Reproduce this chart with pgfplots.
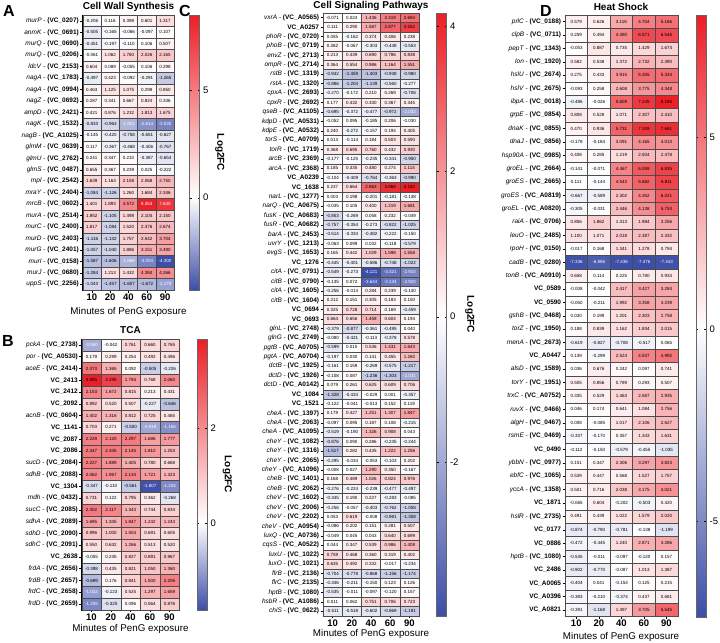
\documentclass[border=0pt]{standalone}
\usepackage{fontspec}
\setmainfont{Liberation Sans}
\usepackage{pgfplots}
\usepackage{pgfplotstable}
\pgfplotsset{compat=1.18}

% ---------- fonts ----------
\newcommand\lblfont{\fontsize{6.5bp}{7bp}\selectfont}
\newcommand\cellfont{\fontsize{4.5bp}{5bp}\selectfont}
\newcommand\tickfont{\fontsize{9.5bp}{10bp}\selectfont\bfseries}
\newcommand\cbfont{\fontsize{9.5bp}{10bp}\selectfont}
\newcommand\titfont{\fontsize{10bp}{11bp}\selectfont\bfseries}
\newcommand\letfont{\fontsize{16bp}{17bp}\selectfont\bfseries}
\newcommand\xlfont{\fontsize{9.8bp}{11bp}\selectfont}

% gene label: italic gene name, bold locus tag
\newcommand\gl[2]{\textit{#1} - \textbf{(VC\_#2)}}
\newcommand\vc[1]{\textbf{VC\_#1}}

% one heat-map cell, sized per panel
\newdimen\cellw \newdimen\cellh
\pgfdeclareplotmark{hmcell}{%
  \pgfpathrectangle{\pgfpoint{-0.5\cellw}{-0.5\cellh}}{\pgfpoint{\cellw}{\cellh}}%
  \pgfusepathqfillstroke}

% value text inside a cell, white on the darkest cells
% (thresholds are on the 0..1000 colour scale of each panel)
\newcommand\celltext{%
  \pgfmathtruncatemacro\wt{(\pgfplotspointmetatransformed<\negthr)||(\pgfplotspointmetatransformed>\posthr)}%
  \ifnum\wt=1 \color{white}\fi
  \pgfmathprintnumber[fixed,fixed zerofill,precision=3]{\pgfplotspointmeta}}

% blue - white - red maps with white at 0 for each panel's range
\pgfplotsset{
  colormap={bwrA}{rgb255(0pt)=(61,78,168) rgb255(4.3pt)=(255,255,255) rgb255(12.8pt)=(236,30,38)},
  colormap={bwrB}{rgb255(0pt)=(61,78,168) rgb255(1.85pt)=(255,255,255) rgb255(5.75pt)=(236,30,38)},
  colormap={bwrC}{rgb255(0pt)=(61,78,168) rgb255(4.12pt)=(255,255,255) rgb255(8.3pt)=(236,30,38)},
  colormap={bwrD}{rgb255(0pt)=(61,78,168) rgb255(7.48pt)=(255,255,255) rgb255(15.67pt)=(236,30,38)},
}

\pgfplotsset{
  /pgf/number format/assume math mode=true,
  hmplot/.style={scatter, only marks, mark=hmcell, line width=0.35bp,
    point meta=explicit,
    scatter/use mapped color={draw=black!70, fill=mapped color}},
  hmtext/.style={only marks, mark=*, mark size=0pt,
    mark options={draw=none, fill=none},
    point meta=explicit,
    nodes near coords={\celltext},
    every node near coord/.append style={font=\cellfont, inner sep=0pt,
      anchor=center, text=black}},
  hmaxis/.style={anchor=north west, y dir=reverse, axis on top,
    xmin=-0.5, xmax=4.5, ymin=-0.5,
    xtick={0,1,2,3,4}, xticklabels={10,20,40,60,90},
    xticklabel style={font=\tickfont, inner sep=1bp},
    yticklabel style={font=\lblfont, inner sep=1.2bp},
    tick align=outside, major tick length=2.5bp,
    xtick pos=bottom, ytick pos=left,
    axis line style={line width=0.8bp},
    tick style={line width=0.5bp, black}},
  % stand-alone colour scale: height, ticks, extra options
  hmbar/.style n args={3}{anchor=north west, hide axis, scale only axis,
    width=1bp, height=#1, xmin=0, xmax=1, ymin=0, ymax=1,
    colorbar, colorbar style={width=10bp, height=#1, scale only axis,
      at={(parent axis.north east)}, anchor=north west, xshift=0pt,
      ytick={#2}, yticklabel style={font=\cbfont},
      ylabel={Log2FC}, ylabel style={font=\titfont, rotate=180},
      axis line style={line width=0.3bp, black!60},
      major tick length=2bp, tick style={black},
      /pgf/number format/assume math mode=true, #3}},
}

\newcommand\heatcols[1]{%
  \addplot[hmplot] table[x expr=0, y expr=\coordindex, meta=a]{#1};
  \addplot[hmplot] table[x expr=1, y expr=\coordindex, meta=b]{#1};
  \addplot[hmplot] table[x expr=2, y expr=\coordindex, meta=c]{#1};
  \addplot[hmplot] table[x expr=3, y expr=\coordindex, meta=d]{#1};
  \addplot[hmplot] table[x expr=4, y expr=\coordindex, meta=e]{#1};
  \addplot[hmtext] table[x expr=0, y expr=\coordindex, meta=a]{#1};
  \addplot[hmtext] table[x expr=1, y expr=\coordindex, meta=b]{#1};
  \addplot[hmtext] table[x expr=2, y expr=\coordindex, meta=c]{#1};
  \addplot[hmtext] table[x expr=3, y expr=\coordindex, meta=d]{#1};
  \addplot[hmtext] table[x expr=4, y expr=\coordindex, meta=e]{#1};
}

% ---------- data: Log2FC at 10, 20, 40, 60, 90 min ----------
% A: cell wall synthesis
\pgfplotstableread{
a b c d e
-0.206 0.116 0.398 0.601 1.317
-0.505 -0.165 -0.066 -0.097 0.107
-0.451 -0.197 -0.110 0.106 0.507
-0.061 1.062 1.760 2.026 2.165
0.604 0.089 -0.055 0.106 0.298
-0.497 0.423 -0.092 -0.291 -1.265
0.463 1.125 1.075 0.298 0.850
0.287 0.341 0.667 0.824 0.336
0.421 0.876 1.232 1.813 1.675
-0.833 -0.963 -1.801 -2.614 -3.030
-0.145 -0.420 -0.758 -0.651 -0.627
0.117 -0.367 -0.468 -0.406 -0.767
0.241 0.347 0.210 -0.387 -0.654
0.655 0.367 0.239 0.025 -0.222
1.639 1.163 2.158 2.068 2.750
-1.084 -1.126 1.260 1.684 2.346
1.401 1.893 4.572 8.353 7.640
1.852 -1.105 1.498 2.104 2.150
1.817 -1.084 1.520 2.376 2.674
-1.116 -1.132 1.757 2.542 3.704
-1.057 -1.040 1.886 3.151 3.490
-1.587 -1.606 -1.868 -3.004 -4.300
-1.284 1.213 1.432 4.384 4.266
-1.043 -1.457 -1.607 -1.672 -2.279
}\tblA

% B: TCA cycle
\pgfplotstableread{
a b c d e
-0.860 -0.042 0.761 0.660 0.765
0.179 0.299 0.254 0.492 0.496
2.373 1.365 0.092 -0.505 -0.226
3.885 3.295 1.794 0.768 2.060
2.153 1.672 0.815 0.213 0.431
0.892 0.520 0.507 -0.227 -0.646
1.402 1.316 0.812 0.725 0.465
0.703 0.271 -0.500 -0.918 -1.166
2.228 2.120 2.297 1.686 1.777
2.347 2.345 2.145 1.810 1.253
2.227 1.889 1.405 0.780 0.668
2.062 1.967 2.134 1.721 1.323
-0.347 -0.110 -0.561 -1.807 -1.234
0.731 0.122 0.795 0.362 -0.268
2.302 2.117 1.343 0.744 0.834
1.695 1.345 1.847 1.242 1.244
0.996 1.000 1.504 0.691 0.605
0.550 0.632 1.266 0.513 0.520
-0.055 0.235 0.827 0.891 0.967
-0.398 0.435 0.821 1.050 1.360
-0.699 0.176 0.841 1.500 2.206
-1.022 -0.123 0.525 1.297 1.659
-1.255 -0.325 0.096 0.564 0.876
}\tblB

% C: cell signaling pathways
\pgfplotstableread{
a b c d e
-0.071 0.024 1.436 2.419 2.694
0.111 0.290 1.587 2.877 3.552
0.055 -0.162 0.374 0.406 0.238
0.262 -0.067 -0.303 -0.448 -0.553
0.213 0.439 0.690 0.786 0.838
0.364 0.554 0.986 1.164 1.551
-0.942 -1.459 -1.403 -0.938 -0.980
-0.886 -1.204 -1.139 -0.560 -0.277
-0.270 -0.172 0.210 0.269 -0.706
0.177 0.432 0.330 0.367 0.345
-0.695 -0.372 -0.477 -0.972 -2.032
-0.052 0.095 -0.185 0.206 -0.030
0.240 -0.272 -0.157 0.194 0.405
0.013 -0.114 0.184 0.503 0.590
0.368 0.695 0.760 0.432 0.930
-0.177 -0.125 -0.235 -0.341 -0.950
0.185 0.335 0.480 0.274 1.114
-0.104 -0.409 -0.764 -0.363 -0.990
0.237 0.664 2.863 3.868 4.182
0.003 0.198 -0.201 -0.181 -0.138
-0.035 0.105 0.400 1.219 1.681
-0.853 -0.269 0.058 0.232 -0.049
-0.757 -0.354 -0.273 -0.822 -1.025
-0.514 -0.334 -0.482 -0.222 -0.150
-0.063 0.099 0.032 -0.118 -0.579
0.165 0.442 1.029 1.598 1.558
-0.445 -0.401 -0.586 -0.748 -1.022
-0.549 -0.273 -4.121 -3.321 -2.910
-0.135 0.072 -3.644 -3.134 -2.920
-0.256 -0.014 0.284 0.239 -0.140
0.212 0.151 0.305 0.183 0.150
0.325 0.728 0.714 0.169 -0.459
0.664 0.656 1.458 0.604 0.194
-0.379 -0.877 -0.361 -0.495 0.040
-0.080 -0.421 -0.113 -0.378 0.578
-0.599 0.010 0.536 1.431 1.643
-0.197 0.030 0.141 0.455 1.260
-0.161 0.159 -0.269 -0.575 -1.217
-0.108 0.087 -1.236 -1.303 -2.031
0.079 0.261 0.625 0.609 0.706
-1.328 -0.434 -0.029 0.001 -0.357
-0.122 -0.041 -0.013 0.152 0.119
0.179 0.427 1.251 1.307 1.847
-0.097 0.095 0.187 0.108 -0.215
-0.519 -0.190 1.326 0.908 0.043
-0.876 0.090 0.286 -0.235 -0.244
-1.517 0.282 0.435 1.222 1.256
-0.295 -0.034 -0.053 -0.103 0.202
-0.008 0.027 1.290 0.350 -0.167
0.168 0.489 1.026 0.824 0.976
-0.276 -0.224 -0.239 -0.477 -0.497
-0.345 0.190 0.227 -0.283 -0.085
-0.256 -0.057 -0.403 -0.762 -1.058
0.053 0.619 -0.008 -0.981 -1.308
-0.086 0.202 0.151 0.281 0.507
-0.049 0.045 0.043 0.640 0.699
0.044 0.347 0.539 0.986 1.408
0.759 0.468 0.360 0.319 0.402
0.635 0.492 0.332 -0.017 -0.234
-0.704 -0.778 -0.868 -1.156 -1.174
-0.346 -0.211 -0.150 0.123 0.126
-0.535 -0.011 -0.097 -0.120 0.157
0.011 0.062 0.751 0.706 0.723
-0.511 -0.518 -0.602 -0.869 -1.191
}\tblC

% D: heat shock
\pgfplotstableread{
a b c d e
0.579 0.626 3.116 4.704 5.166
0.259 0.494 4.490 6.571 6.546
-0.053 0.887 0.735 1.429 1.674
0.582 0.538 1.372 2.732 2.390
0.275 0.433 3.915 5.355 5.334
-0.093 0.258 2.608 3.775 4.348
-0.486 -0.026 5.609 7.245 8.186
0.808 0.528 1.071 2.307 2.410
0.470 0.936 5.731 7.349 7.661
-0.178 -0.184 3.091 4.165 4.013
0.408 0.285 1.219 2.504 2.478
-0.141 -0.071 4.467 6.059 6.835
0.111 -0.144 4.543 5.682 6.811
-0.667 -0.589 2.302 4.352 6.021
-0.305 -0.031 2.446 4.138 5.753
0.856 1.862 1.313 1.984 3.256
1.100 1.071 2.018 2.387 2.332
-0.017 0.168 1.341 1.278 0.794
-7.336 -6.886 -7.436 -7.476 -7.343
0.658 0.114 0.225 0.780 0.934
-0.008 -0.042 2.417 3.427 3.284
-0.050 -0.211 1.992 3.358 3.239
0.030 0.199 1.201 2.303 2.758
0.188 0.839 1.162 1.834 2.015
-0.619 -0.827 -0.708 -0.517 0.065
0.139 -0.299 2.524 4.537 4.992
0.036 0.676 0.242 0.097 0.741
0.505 0.856 0.789 0.293 0.507
0.335 0.529 1.463 2.587 2.935
0.046 0.174 0.641 1.084 2.756
0.008 -0.085 1.017 2.106 2.627
-0.337 -0.170 0.357 1.343 1.631
-0.112 -0.150 -0.579 -0.455 -1.035
0.151 0.347 2.306 3.297 3.823
0.539 0.447 0.568 1.527 1.757
0.501 0.716 2.038 3.175 4.021
-0.065 0.604 -0.202 -0.503 0.420
0.491 0.439 1.022 1.579 2.020
-0.874 -0.790 -0.781 -0.138 -1.199
-0.472 -0.445 1.240 2.871 3.286
-0.535 -0.011 -0.097 -0.120 0.157
-0.902 -0.770 -0.087 1.013 1.387
-0.404 0.041 -0.154 0.125 0.215
-0.383 -0.210 -0.374 0.437 0.681
-0.391 -1.168 1.497 3.705 5.545
}\tblD

\begin{document}
\begin{tikzpicture}
\path[use as bounding box] (0,0) rectangle (720bp,-643bp);

% ===== A: Cell Wall Synthesis =====
\cellw=18.3bp \cellh=11.45bp
\def\negthr{199}\def\posthr{844}
\begin{axis}[hmaxis, at={(82.7bp,-15.2bp)}, x=18.3bp, y=11.45bp, ymax=23.5,
  colormap name=bwrA, point meta min=-4.3, point meta max=8.5,
  ytick={0,...,23},
  yticklabels={\gl{murP}{0207},\gl{anmK}{0691},\gl{murQ}{0690},\gl{murQ}{0206},\gl{ldcV}{2153},
    \gl{nagA}{1783},\gl{nagA}{0994},\gl{nagZ}{0692},\gl{ampD}{2421},\gl{nagK}{1532},
    \gl{nagB}{A1025},\gl{glmM}{0639},\gl{glmU}{2762},\gl{glmS}{0487},\gl{mpl}{2542},
    \gl{mraY}{2404},\gl{mrcB}{0602},\gl{murA}{2514},\gl{murC}{2400},\gl{murD}{2403},
    \gl{murG}{2401},\gl{murI}{0158},\gl{murJ}{0680},\gl{uppS}{2256}}]
\heatcols{\tblA}
\end{axis}
\begin{axis}[hmbar={274.8bp}{0,5}{}, at={(180bp,-15.2bp)},
  colormap name=bwrA, point meta min=-4.3, point meta max=8.5]
\addplot[draw=none] coordinates {(0,0)};
\end{axis}

% ===== B: TCA =====
\cellw=19.5bp \cellh=11.78bp
\def\negthr{174}\def\posthr{1001}
\begin{axis}[hmaxis, at={(81.7bp,-339bp)}, x=19.5bp, y=11.78bp, ymax=22.5,
  colormap name=bwrB, point meta min=-1.85, point meta max=3.9,
  ytick={0,...,22},
  yticklabels={\gl{pckA}{2738},\gl{por}{A0530},\gl{aceE}{2414},\vc{2413},\vc{2412},
    \vc{2092},\gl{acnB}{0604},\vc{1141},\vc{2087},\vc{2086},
    \gl{sucD}{2084},\gl{sdhB}{2088},\vc{1304},\gl{mdh}{0432},\gl{sucC}{2085},
    \gl{sdhA}{2089},\gl{sdhD}{2090},\gl{sdhC}{2091},\vc{2638},\gl{frdA}{2656},
    \gl{frdB}{2657},\gl{frdC}{2658},\gl{frdD}{2659}}]
\heatcols{\tblB}
\end{axis}
\begin{axis}[hmbar={270.9bp}{0,2}{}, at={(187.5bp,-339bp)},
  colormap name=bwrB, point meta min=-1.85, point meta max=3.9]
\addplot[draw=none] coordinates {(0,0)};
\end{axis}

% ===== C: Cell Signaling Pathways =====
\cellw=19.2bp \cellh=9.42bp
\def\negthr{255}\def\posthr{1001}
\begin{axis}[hmaxis, at={(323bp,-13bp)}, x=19.2bp, y=9.42bp, ymax=63.5,
  colormap name=bwrC, point meta min=-4.12, point meta max=4.18,
  ytick={0,...,63},
  yticklabels={\gl{vxrA}{A0565},\vc{A0257},\gl{phoR}{0720},\gl{phoB}{0719},\gl{envZ}{2713},
    \gl{ompR}{2714},\gl{rstB}{1319},\gl{rstA}{1320},\gl{cpxA}{2693},\gl{cpxR}{2692},
    \gl{qseB}{A1105},\gl{kdpD}{A0531},\gl{kdpE}{A0532},\gl{torS}{A0709},\gl{torR}{1719},
    \gl{arcB}{2369},\gl{arcA}{2368},\vc{A0239},\vc{1638},\gl{narL}{1277},
    \gl{narQ}{A0675},\gl{fusK}{A0683},\gl{fusR}{A0682},\gl{barA}{2453},\gl{uvrY}{1213},
    \gl{evgS}{1653},\vc{1276},\gl{citA}{0791},\gl{citB}{0790},\gl{citA}{1605},
    \gl{citB}{1604},\vc{0694},\vc{0693},\gl{glnL}{2748},\gl{glnG}{2749},
    \gl{pgtB}{A0705},\gl{pgtA}{A0704},\gl{dctB}{1925},\gl{dctD}{1926},\gl{dctD}{A0142},
    \vc{1084},\vc{1521},\gl{cheA}{1397},\gl{cheA}{2063},\gl{cheA}{A1095},
    \gl{cheY}{1082},\gl{cheY}{1316},\gl{cheY}{2065},\gl{cheY}{A1096},\gl{cheB}{1401},
    \gl{cheB}{2062},\gl{cheV}{1602},\gl{cheV}{2006},\gl{cheV}{2202},\gl{cheV}{A0954},
    \gl{luxQ}{A0736},\gl{cqsS}{A0522},\gl{luxU}{1022},\gl{luxO}{1021},\gl{flrB}{2136},
    \gl{flrC}{2135},\gl{hptB}{1080},\gl{hsbR}{A1086},\gl{chiS}{0622}}]
\heatcols{\tblC}
\end{axis}
\begin{axis}[hmbar={602.9bp}{-2,0,2,4}{}, at={(427bp,-13bp)},
  colormap name=bwrC, point meta min=-4.12, point meta max=4.18]
\addplot[draw=none] coordinates {(0,0)};
\end{axis}

% ===== D: Heat Shock =====
\cellw=22.55bp \cellh=13.37bp
\def\negthr{286}\def\posthr{1001}
\begin{axis}[hmaxis, at={(565bp,-15bp)}, x=22.55bp, y=13.37bp, ymax=44.5,
  colormap name=bwrD, point meta min=-7.48, point meta max=8.19,
  ytick={0,...,44},
  yticklabels={\gl{prlC}{0188},\gl{clpB}{0711},\gl{pepT}{1343},\gl{lon}{1920},\gl{hslU}{2674},
    \gl{hslV}{2675},\gl{ibpA}{0018},\gl{grpE}{0854},\gl{dnaK}{0855},\gl{dnaJ}{0856},
    \gl{hsp90A}{0985},\gl{groEL}{2664},\gl{groES}{2665},\gl{groES}{A0819},\gl{groEL}{A0820},
    \gl{raiA}{0706},\gl{leuO}{2485},\gl{rpoH}{0150},\gl{cadB}{0280},\gl{tonB}{A0910},
    \vc{0589},\vc{0590},\gl{gshB}{0468},\gl{torZ}{1950},\gl{menA}{2673},
    \vc{A0447},\gl{alsD}{1589},\gl{torY}{1951},\gl{trxC}{A0752},\gl{ruvX}{0466},
    \gl{algH}{0467},\gl{rsmE}{0469},\vc{0490},\gl{ybbN}{0977},\gl{ebfC}{1065},
    \gl{yccA}{1358},\vc{1871},\gl{hslR}{2735},\vc{0177},\vc{0886},
    \gl{hptB}{1080},\vc{2486},\vc{A0065},\vc{A0396},\vc{A0821}}]
\heatcols{\tblD}
\end{axis}
\begin{axis}[hmbar={601.65bp}{-5,0,5}{}, at={(686.7bp,-15bp)},
  colormap name=bwrD, point meta min=-7.48, point meta max=8.19]
\addplot[draw=none] coordinates {(0,0)};
\end{axis}

% ----- panel letters, titles and axis titles -----
\node[font=\letfont] at (9bp,-11bp) {A};
\node[font=\letfont] at (8bp,-341bp) {B};
\node[font=\letfont] at (185bp,-11bp) {C};
\node[font=\letfont] at (546bp,-11bp) {D};
\node[font=\titfont] at (128.5bp,-7bp) {Cell Wall Synthesis};
\node[font=\titfont] at (130.5bp,-330bp) {TCA};
\node[font=\titfont] at (371bp,-6bp) {Cell Signaling Pathways};
\node[font=\titfont] at (621bp,-7bp) {Heat Shock};
\node[font=\xlfont] at (128.5bp,-312bp) {Minutes of PenG exposure};
\node[font=\xlfont] at (130.5bp,-629bp) {Minutes of PenG exposure};
\node[font=\xlfont] at (371bp,-634bp) {Minutes of PenG exposure};
\node[font=\xlfont] at (621bp,-637bp) {Minutes of PenG exposure};
\end{tikzpicture}
\end{document}
